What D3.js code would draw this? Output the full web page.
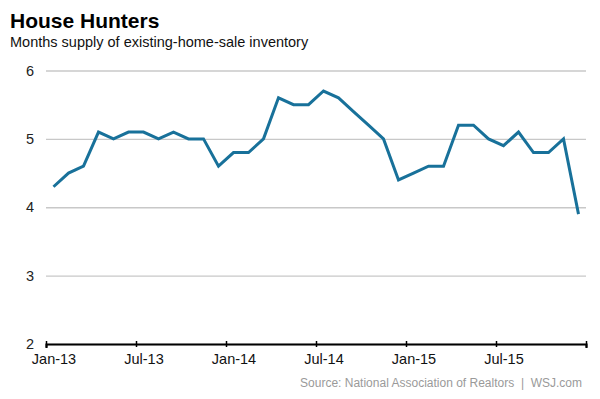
<!DOCTYPE html>
<html>
<head>
<meta charset="utf-8">
<script src="https://cdn.jsdelivr.net/npm/d3@7"></script>
<style>
  body { margin: 0; background: #fff; }
  svg { display: block; font-family: Arial, "Liberation Sans", sans-serif; }
</style>
</head>
<body>
<script>
// months Jan-13 .. Dec-15
const values = [
  4.3, 4.5, 4.6, 5.1, 5.0, 5.1, 5.1, 5.0, 5.1, 5.0, 5.0, 4.6,
  4.8, 4.8, 5.0, 5.6, 5.5, 5.5, 5.7, 5.6, 5.4, 5.2, 5.0, 4.4,
  4.5, 4.6, 4.6, 5.2, 5.2, 5.0, 4.9, 5.1, 4.8, 4.8, 5.0, 3.9
];
const xTicks = [0, 6, 12, 18, 24, 30, 36];
const xLabels = ['Jan-13', 'Jul-13', 'Jan-14', 'Jul-14', 'Jan-15', 'Jul-15', ''];
const yTicks = [2, 3, 4, 5, 6];

const width = 600, height = 399;
const margin = { top: 70.5, right: 14, bottom: 55, left: 46 };

const svg = d3.select('body').append('svg')
  .attr('width', width)
  .attr('height', height);

const x = d3.scaleLinear().domain([0, 36]).range([margin.left, width - margin.right]);
const y = d3.scaleLinear().domain([2, 6]).range([height - margin.bottom, margin.top]);

// title + subtitle
svg.append('text')
  .attr('x', 10).attr('y', 28)
  .style('font-size', '21px').style('font-weight', 'bold').style('fill', '#000')
  .text('House Hunters');
svg.append('text')
  .attr('x', 10).attr('y', 47)
  .style('font-size', '14.5px').style('fill', '#111')
  .text('Months supply of existing-home-sale inventory');

// gridlines
const yAxis = d3.axisLeft(y).tickValues(yTicks).tickFormat(d3.format('d'))
  .tickSize(-(width - margin.right - margin.left)).tickPadding(12);
const gy = svg.append('g').attr('transform', `translate(${margin.left},0)`).call(yAxis);
gy.select('.domain').remove();
gy.selectAll('.tick line').attr('stroke', '#c8c8c8').attr('stroke-width', 1.3);
gy.selectAll('.tick text').style('font-size', '14.5px').style('fill', '#222')
  .attr('font-family', null);

// x axis
const half = x(0.5) - x(0);
const xAxis = d3.axisBottom(x).tickValues(xTicks).tickFormat((d, i) => xLabels[i]).tickSizeOuter(0).tickSize(4);
const gx = svg.append('g').attr('transform', `translate(0,${y(2)})`).call(xAxis);
gx.select('.domain').attr('stroke', '#000').attr('stroke-width', 2.2);
gx.selectAll('.tick line').attr('stroke', '#000').attr('stroke-width', 1.5).attr('y1', -3).attr('y2', 3);
gx.selectAll('.tick text').attr('dx', half).attr('y', 10).style('font-size', '14.5px').style('fill', '#111')
  .attr('font-family', null);

// line
const line = d3.line()
  .x((d, i) => x(i + 0.5))
  .y(d => y(d));
svg.append('path')
  .datum(values)
  .attr('d', line)
  .attr('fill', 'none')
  .attr('stroke', '#18719a')
  .attr('stroke-width', 3)
  .attr('stroke-linejoin', 'miter');

// source
svg.append('text')
  .attr('x', 582).attr('y', 387)
  .attr('text-anchor', 'end')
  .style('white-space', 'pre')
  .style('font-size', '12px').style('fill', '#9a9a9a')
  .text('Source: National Association of Realtors  |  WSJ.com');
</script>
</body>
</html>
